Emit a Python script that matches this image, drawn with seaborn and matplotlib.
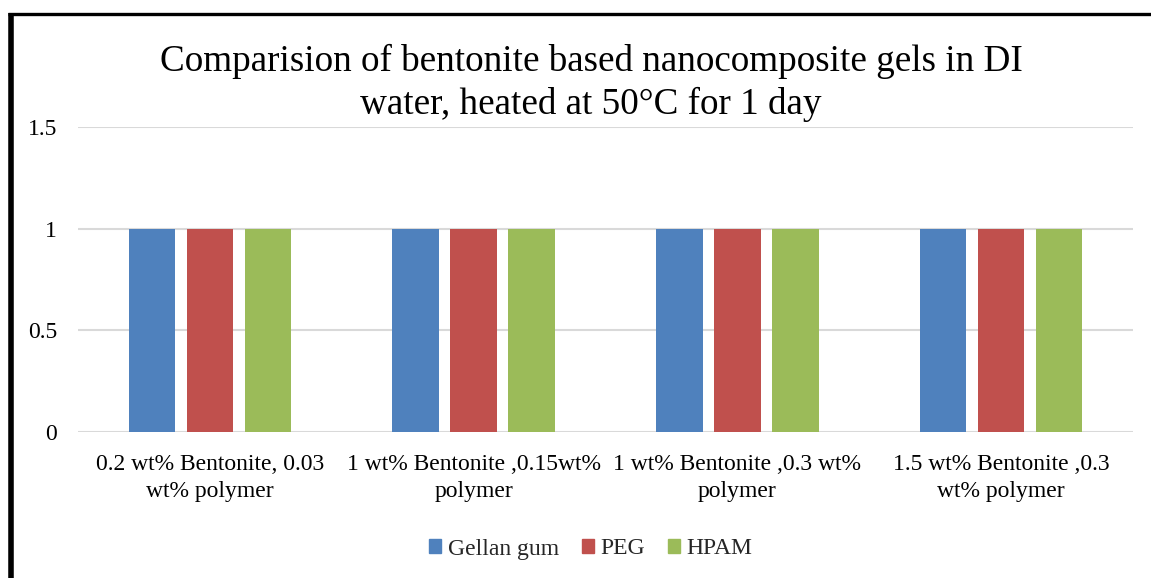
import matplotlib
matplotlib.use("Agg")
import matplotlib.pyplot as plt
from matplotlib.lines import Line2D
import seaborn as sns
import pandas as pd

categories = [
    "0.2 wt% Bentonite, 0.03\nwt% polymer",
    "1 wt% Bentonite ,0.15wt%\npolymer",
    "1 wt% Bentonite ,0.3 wt%\npolymer",
    "1.5 wt% Bentonite ,0.3\nwt% polymer",
]
series = ["Gellan gum", "PEG", "HPAM"]
gellan_gum = [1, 1, 1, 1]
peg = [1, 1, 1, 1]
hpam = [1, 1, 1, 1]
colors = ["#4F81BD", "#C0504D", "#9BBB59"]

rows = []
for name, vals in zip(series, [gellan_gum, peg, hpam]):
    for cat, v in zip(categories, vals):
        rows.append({"category": cat, "series": name, "value": v})
df = pd.DataFrame(rows)

sns.set_theme(style="white")
plt.rcParams["font.family"] = ["Liberation Serif", "DejaVu Serif"]

fig = plt.figure(figsize=(11.51, 5.78), dpi=100)
ax = fig.add_axes([0.0678, 0.2526, 0.9166, 0.5277])

sns.barplot(data=df, x="category", y="value", hue="series", order=categories,
            hue_order=series, palette=colors, width=0.66, gap=0.2,
            saturation=1, linewidth=0, ax=ax, legend=True)

ax.set_ylim(0, 1.5)
ax.set_yticks([0, 0.5, 1, 1.5])
ax.set_yticklabels(["0", "0.5", "1", "1.5"])
ax.set_xlim(-0.5, 3.5)
ax.set_xlabel("")
ax.set_ylabel("")
ax.yaxis.grid(True, color="#d9d9d9", linewidth=1.5)
ax.set_axisbelow(True)
for s in ax.spines.values():
    s.set_visible(False)
ax.tick_params(axis="y", length=0, pad=15, labelsize=17, labelcolor="black")
ax.tick_params(axis="x", length=0, pad=15.5, labelsize=17, labelcolor="black")
for lbl in ax.get_xticklabels():
    lbl.set_linespacing(1.4)

ax.get_legend().remove()
handles = [plt.Rectangle((0, 0), 1, 1, color=c) for c in colors]
fig.legend(handles, series, loc="center", bbox_to_anchor=(591 / 1151, 1 - 549 / 578),
           ncol=3, frameon=False, fontsize=17, handlelength=0.5, handleheight=0.5,
           handletextpad=0.3, columnspacing=0.95)

fig.text(591 / 1151, 1 - 83 / 578,
         "Comparision of bentonite based nanocomposite gels in DI\nwater, heated at 50°C for 1 day",
         ha="center", va="center", fontsize=26.7, linespacing=1.3, color="black")

# Outer frame edges along the left and top of the figure
fig.add_artist(Line2D([10.5 / 1151, 10.5 / 1151], [0, 1 - 13 / 578],
                      transform=fig.transFigure, color="black", linewidth=4,
                      solid_capstyle="butt"))
fig.add_artist(Line2D([8 / 1151, 1], [1 - 14 / 578, 1 - 14 / 578],
                      transform=fig.transFigure, color="black", linewidth=2.4,
                      solid_capstyle="butt"))

fig.savefig("out.png", dpi=100, facecolor="white")
